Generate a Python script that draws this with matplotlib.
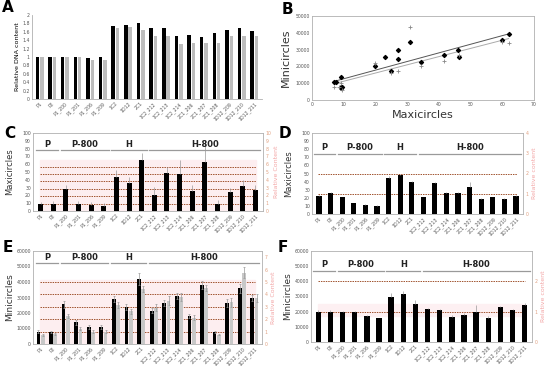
import numpy as np
import matplotlib
matplotlib.use("Agg")
import matplotlib.pyplot as plt

strains = ["P1", "P2", "P1_200", "P1_201", "P1_206", "P1_209", "1C2", "1D12", "2C1",
           "1C2_212", "1C2_213", "1C2_214", "2C1_206", "2C1_207", "2C1_208",
           "1D12_209", "1D12_210", "1D12_211"]

# A: relative DNA content
dna_black = [1.0, 1.0, 1.01, 1.01, 0.97, 1.01, 1.75, 1.76, 1.82, 1.68, 1.68, 1.5,
             1.53, 1.48, 1.57, 1.65, 1.7, 1.62]
dna_gray = [1.0, 1.0, 0.99, 0.99, 0.92, 0.93, 1.68, 1.71, 1.65, 1.5, 1.5, 1.3,
            1.34, 1.33, 1.34, 1.5, 1.5, 1.5]

# B: maxicircles vs minicircles
b_max_black = [7, 7.5, 9, 9, 9.5, 9, 20, 23, 25, 27, 27, 31, 34.5, 41.5, 46, 46.5, 60, 62]
b_min_black = [10500, 10500, 13500, 8000, 7500, 7000, 20500, 25500, 17500, 29500, 24500,
               34500, 22500, 27000, 29500, 25500, 36000, 39500]
b_max_gray = [7, 8.5, 9, 9.5, 20, 25, 27, 31, 34.5, 41.5, 46.5, 60, 62]
b_min_gray = [7500, 7500, 10000, 6000, 22000, 16000, 17500, 43500, 20000, 23000, 26500,
              34500, 34000]

# C: maxicircles (per cell)
maxi_c = [9, 9.5, 28, 9, 7.5, 7, 44, 36, 65, 21, 49, 48, 26, 63, 9.5, 24, 32, 27]
maxi_c_err = [3, 3, 5, 4, 4, 3, 8, 7, 9, 10, 8, 17, 7, 28, 5, 6, 8, 6]

# D: maxicircles (normalised)
maxi_d = [22, 26, 21, 13, 11.5, 10, 45, 48, 39, 21, 38, 25.5, 26, 33, 19, 20.5, 19, 22.5]
maxi_d_err = [1, 1, 0.5, 0.5, 0.5, 0.5, 2, 2, 2, 0.5, 2, 1.5, 1, 7, 0.5, 0.5, 0.5, 1]

# E: minicircles, two series
mini_e_black = [8000, 7800, 25500, 14000, 11000, 10800, 29000, 24000, 42000, 21500, 26500,
                31000, 18000, 38000, 8000, 26500, 36000, 29500]
mini_e_black_err = [800, 800, 2000, 1500, 1200, 1200, 2000, 2000, 4000, 1500, 2000, 2000,
                    1500, 2500, 600, 2500, 3000, 2000]
mini_e_gray = [6000, 6500, 18000, 10000, 8000, 8000, 25000, 21000, 35500, 23500, 28000,
               30500, 17000, 36000, 6000, 27000, 46000, 29500]
mini_e_gray_err = [600, 600, 1500, 1000, 800, 800, 2000, 1500, 2000, 2500, 3000, 2500,
                   1500, 2000, 500, 3000, 3500, 2500]

# F: minicircles (normalised)
mini_f = [20000, 20000, 19500, 20000, 17000, 15500, 29500, 31500, 25000, 21500, 21000,
          16500, 18000, 20000, 16000, 23000, 21000, 24500]
mini_f_err = [1000, 800, 800, 600, 600, 600, 2500, 2000, 2500, 600, 1000, 1500, 1000,
              4500, 1000, 600, 600, 1000]

groups = ["P", "P-800", "H", "H-800"]
group_span = [(0, 1), (2, 5), (6, 8), (9, 17)]

W, H = 550, 366
fig = plt.figure(figsize=(5.5, 3.66), dpi=100)

BROWN = "#a0522d"
PINK = "#f3a6a6"
TICKC = "#e0a080"
GRAYLINE = "#9a9a9a"
SPINE = "#b0b0b0"


def box(l, t, r, b):
    return [l / W, 1 - b / H, (r - l) / W, (b - t) / H]


def letter(x, y, s):
    fig.text(x / W, 1 - y / H, s, fontsize=11, fontweight="bold", ha="center", va="center")


def style(ax, allspines=True):
    for s in ax.spines.values():
        s.set_color(SPINE)
        s.set_linewidth(0.6)
    if not allspines:
        ax.spines["top"].set_visible(False)
        ax.spines["right"].set_visible(False)
    ax.tick_params(labelsize=3.3, length=0, pad=1.5, colors="#555555")


def xticks(ax):
    x = np.arange(len(strains))
    ax.set_xticks(x)
    ax.set_xticklabels(strains, rotation=45, ha="right", rotation_mode="anchor")
    ax.set_xlim(-0.6, len(strains) - 0.4)


def group_bars(ax, yline, ytext):
    for g, (a, b) in zip(groups, group_span):
        ax.plot([a - 0.4, b + 0.4], [yline, yline], color=GRAYLINE, lw=0.9)
        ax.text((a + b) / 2, ytext, g, ha="center", va="bottom", fontsize=6,
                fontweight="bold", color="#222222")


def right_axis(ax, top, ticks, label):
    r = ax.twinx()
    r.set_ylim(0, top)
    r.set_yticks(ticks)
    for s in r.spines.values():
        s.set_visible(False)
    r.tick_params(labelsize=3.3, length=0, pad=2, colors=TICKC)
    r.set_ylabel(label, fontsize=4.5, color=PINK, labelpad=2)
    return r


x = np.arange(len(strains))

# ---- A ----
axA = fig.add_axes(box(32, 15, 262, 99))
axA.bar(x - 0.17, dna_black, width=0.28, color="black")
axA.bar(x + 0.17, dna_gray, width=0.28, color="#bdbdbd")
axA.set_ylim(0, 2)
axA.set_yticks(np.arange(0, 2.01, 0.2))
axA.set_yticklabels(["0", "0.2", "0.4", "0.6", "0.8", "1", "1.2", "1.4", "1.6", "1.8", "2"])
style(axA, allspines=False)
xticks(axA)
axA.set_ylabel("Relative DNA content", fontsize=4.6, labelpad=2)
letter(8, 8, "A")

# ---- B ----
axB = fig.add_axes(box(312, 16, 534, 100))
axB.scatter(b_max_black, b_min_black, marker="D", s=4, color="black", zorder=3)
axB.scatter(b_max_gray, b_min_gray, marker="+", s=5, lw=0.6, color="#888888", zorder=3)
for xs, ys, c in [(b_max_black, b_min_black, "#555555"), (b_max_gray, b_min_gray, "#aaaaaa")]:
    k, c0 = np.polyfit(xs, ys, 1)
    xl = np.array([min(xs), max(xs)])
    axB.plot(xl, k * xl + c0, color=c, lw=0.7)
axB.set_xlim(0, 70)
axB.set_ylim(0, 50000)
axB.set_xticks(range(0, 71, 10))
axB.set_yticks(range(0, 50001, 10000))
style(axB)
axB.set_xlabel("Maxicircles", fontsize=8, labelpad=2, color="#333333")
axB.set_ylabel("Minicircles", fontsize=8, labelpad=3, color="#333333")
letter(287, 9, "B")

# ---- C ----
axC = fig.add_axes(box(33, 133, 263, 211))
axC.axhspan(0, 65, xmin=0.03, xmax=0.97, color="#fdeef0", zorder=0)
for k in range(1, 7):
    axC.axhline(9.5 * k, xmin=0.03, xmax=0.97, color=BROWN, lw=0.7, ls=(0, (1.5, 1)), zorder=1)
axC.bar(x, maxi_c, width=0.4, color="black", zorder=2)
axC.errorbar(x, maxi_c, yerr=[np.zeros(len(x)), maxi_c_err], fmt="none",
             ecolor="#999999", elinewidth=0.5, capsize=0, zorder=2)
group_bars(axC, 78, 80)
axC.set_ylim(0, 100)
axC.set_yticks(range(0, 101, 10))
style(axC)
xticks(axC)
axC.set_ylabel("Maxicircles", fontsize=6, labelpad=6, color="#333333")
right_axis(axC, 10, range(0, 11), "Relative Content")
letter(10, 133, "C")

# ---- D ----
axD = fig.add_axes(box(312, 133, 523, 214))
for k in (1, 2):
    axD.axhline(24.5 * k, xmin=0.03, xmax=0.97, color=BROWN, lw=0.7, ls=(0, (1.5, 1)), zorder=1)
axD.bar(x, maxi_d, width=0.45, color="black", zorder=2)
axD.errorbar(x, maxi_d, yerr=[np.zeros(len(x)), maxi_d_err], fmt="none",
             ecolor="#999999", elinewidth=0.5, capsize=0, zorder=2)
group_bars(axD, 74, 76)
axD.set_ylim(0, 100)
axD.set_yticks(range(0, 101, 10))
style(axD)
xticks(axD)
axD.set_ylabel("Maxicircles", fontsize=6, labelpad=6, color="#333333")
right_axis(axD, 4, range(0, 5), "Relative content")
letter(285, 133, "D")

# ---- E ----
axE = fig.add_axes(box(33, 251, 262, 344))
axE.axhspan(0, 41000, xmin=0.03, xmax=0.97, color="#fdeef0", zorder=0)
for k in range(1, 6):
    axE.axhline(8000 * k, xmin=0.03, xmax=0.97, color=BROWN, lw=0.7, ls=(0, (1.5, 1)), zorder=1)
axE.bar(x - 0.17, mini_e_black, width=0.3, color="black", zorder=2)
axE.bar(x + 0.17, mini_e_gray, width=0.3, color="#c8c8c8", zorder=2)
axE.errorbar(x - 0.17, mini_e_black, yerr=mini_e_black_err, fmt="none",
             ecolor="#999999", elinewidth=0.5, capsize=0.8, capthick=0.5, zorder=3)
axE.errorbar(x + 0.17, mini_e_gray, yerr=mini_e_gray_err, fmt="none",
             ecolor="#999999", elinewidth=0.5, capsize=0.8, capthick=0.5, zorder=3)
group_bars(axE, 52000, 53000)
axE.set_ylim(0, 60000)
axE.set_yticks(range(0, 60001, 10000))
style(axE)
xticks(axE)
axE.set_ylabel("Minicircles", fontsize=6.5, labelpad=2, color="#333333")
right_axis(axE, 7.5, range(0, 8), "Relative Content")
letter(8, 247, "E")

# ---- F ----
axF = fig.add_axes(box(311, 251, 532, 342))
axF.axhspan(17000, 25000, xmin=0.03, xmax=0.97, color="#fdf0f2", zorder=0)
for k in (1, 2):
    axF.axhline(20000 * k, xmin=0.03, xmax=0.97, color=BROWN, lw=0.7, ls=(0, (1.5, 1)), zorder=1)
axF.bar(x, mini_f, width=0.45, color="black", zorder=2)
axF.errorbar(x, mini_f, yerr=[np.zeros(len(x)), mini_f_err], fmt="none",
             ecolor="#999999", elinewidth=0.5, capsize=0, zorder=3)
group_bars(axF, 47000, 48000)
axF.set_ylim(0, 60000)
axF.set_yticks(range(0, 60001, 10000))
style(axF)
xticks(axF)
axF.set_ylabel("Minicircles", fontsize=6.5, labelpad=2, color="#333333")
right_axis(axF, 3, range(0, 3), "Relative content")
letter(283, 247, "F")

fig.savefig("out.png", dpi=100, facecolor="white")
